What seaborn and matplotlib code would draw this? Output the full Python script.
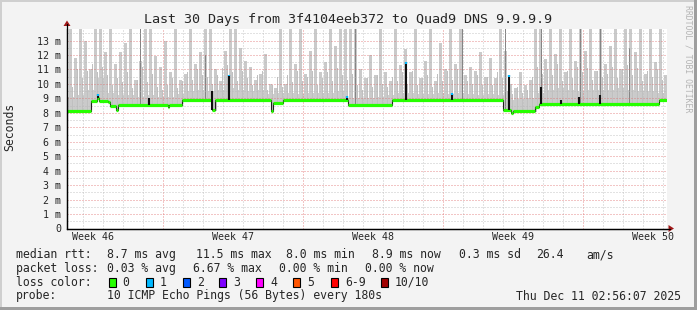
import numpy as np
import matplotlib
matplotlib.use("Agg")
import matplotlib.pyplot as plt
import matplotlib.transforms as mtransforms
import seaborn as sns
import pandas as pd
from matplotlib.patches import Rectangle, Polygon
from matplotlib.lines import Line2D

# ---------------- data (days since start of 30-day window, values in ms) ----------------
med_day = [0.0, 1.2, 1.5, 1.62, 2.05, 2.15, 2.45, 2.55, 5.05, 5.12, 5.75, 7.25, 7.4,
           10.2, 10.3, 10.8, 14.05, 16.25, 21.8, 22.2, 22.3, 23.4, 23.6, 29.6]
med_ms = [8.14, 8.85, 9.05, 8.85, 8.75, 8.5, 8.22, 8.52, 8.42, 8.52, 8.88, 8.22, 8.88,
          8.15, 8.68, 8.88, 8.55, 8.9, 8.2, 7.97, 8.14, 8.42, 8.6, 8.86]

# dense smoke band upper edge, per half day
band_top = [9.1, 9.2, 9.6, 10.4, 9.4, 9.2, 9.2, 9.1, 9.2, 9.1,
            9.1, 9.3, 9.5, 9.6, 9.5, 9.6, 9.7, 9.6, 9.5, 9.6,
            9.3, 9.4, 9.4, 9.3, 9.35, 9.4, 9.4, 9.5, 9.0, 9.05,
            9.0, 9.1, 9.2, 9.4, 9.35, 9.3, 9.3, 9.35, 9.3, 9.4,
            9.3, 9.25, 9.3, 9.2, 8.9, 8.95, 9.0, 9.4, 9.6, 9.7,
            9.6, 9.5, 9.6, 9.55, 9.6, 9.7, 9.6, 9.5, 9.5, 9.4]

# tall smoke spikes, per quarter day
smoke_top = [13.9, 11.8, 13.9, 13.0,  11.0, 13.9, 13.9, 12.2,  13.9, 11.4, 12.2, 12.8,
             13.9, 10.3, 11.6, 13.9,  13.9, 11.9, 11.2, 13.0,  10.8, 13.9, 10.3, 10.7,
             13.9, 11.4, 12.2, 13.9,  13.9, 11.0, 10.2, 12.3,  13.9, 13.9, 12.5, 11.6,
             11.2, 10.3, 10.7, 12.1,  10.0, 9.7, 13.9, 10.0,  13.9, 11.4, 13.9, 10.7,
             12.3, 13.9, 10.8, 11.5,  13.9, 12.6, 13.9, 13.9,  13.9, 13.9, 11.0, 10.4,
             12.0, 10.6, 13.9, 10.8,  10.2, 13.9, 11.3, 12.4,  10.8, 13.9, 10.4, 11.6,
             13.9, 10.2, 12.8, 11.0,  13.9, 11.4, 13.9, 10.6,  11.2, 10.9, 12.2, 10.5,
             11.8, 10.4, 13.9, 12.3,  10.0, 9.7, 10.8, 9.9,   10.3, 13.9, 13.9, 11.7,
             13.9, 12.1, 13.9, 10.8,  13.9, 11.6, 13.9, 12.3,  13.9, 10.9, 13.9, 11.4,
             12.6, 13.9, 11.0, 13.9,  13.9, 12.2, 13.9, 10.7,  13.9, 11.5, 13.9, 10.6]

# medium smoke spikes, per quarter day (interleaved)
smoke_mid = [10.2, 9.8, 11.0, 10.4,  10.9, 11.4, 10.8, 11.2,  10.6, 9.9, 10.4, 10.1,
             10.8, 9.7, 10.3, 11.2,  10.1, 10.7, 9.8, 9.6,   9.9, 10.4, 9.7, 10.2,
             10.8, 10.3, 11.0, 10.6,  10.5, 10.0, 10.6, 11.1,  11.3, 10.8, 10.2, 10.9,
             10.4, 9.9, 10.6, 10.9,   9.6, 9.9, 10.5, 9.8,    10.6, 10.1, 10.9, 10.2,
             10.5, 10.9, 9.9, 10.4,   10.8, 10.2, 11.1, 10.6,  10.3, 10.7, 9.9, 9.6,
             10.4, 9.8, 10.6, 10.0,   9.8, 10.5, 10.2, 10.8,   10.0, 10.9, 9.9, 10.4,
             10.6, 9.8, 10.7, 10.2,   10.9, 10.3, 11.0, 9.9,   10.2, 10.0, 10.6, 9.9,
             10.5, 9.9, 10.8, 10.4,   9.5, 9.3, 9.8, 9.4,     9.6, 10.5, 11.2, 10.7,
             11.0, 10.6, 11.4, 10.2,  10.9, 10.4, 11.2, 10.8,  11.1, 10.3, 10.9, 10.5,
             10.7, 11.2, 10.4, 11.0,  11.3, 10.6, 11.1, 10.2,  10.9, 10.5, 11.0, 10.3]

dark_day = [3.65, 6.9, 14.4, 19.75, 21.9, 23.7, 25.65, 26.65, 28.1]
dark_top = [13.9, 12.0, 13.9, 13.9, 13.9, 13.9, 13.9, 13.9, 12.5]

spike_day = [1.55, 4.1, 7.25, 8.1, 14.0, 16.95, 19.25, 22.1, 23.7, 24.7, 25.6, 26.65, 29.6]
spike_top = [9.27, 9.0, 9.5, 10.65, 9.17, 11.5, 9.37, 10.6, 9.77, 8.9, 9.1, 9.2, 8.9]
spike_loss1 = [True, False, False, True, True, True, True, True, False, False, False, False, False]

week_labels = ["Week 46", "Week 47", "Week 48", "Week 49", "Week 50"]
week_centers = [1.3, 8.3, 15.3, 22.3, 29.3]
week_lines = [4.8, 11.8, 18.8, 25.8]
day_lines = [0.8 + k for k in range(30)]

ytick_vals = list(range(0, 14))
ytick_labels = ["0"] + [f"{v} m" for v in range(1, 14)]

loss_labels = ["0", "1", "2", "3", "4", "5", "6-9", "10/10"]
loss_colors = ["#26ff00", "#00b8ff", "#0059ff", "#7e00ff", "#ff00ff", "#ff5500", "#ff0000", "#a10000"]
loss_box_x = [108.7, 145.7, 182.7, 219.3, 256.0, 293.3, 331.0, 381.0]

row1 = [("median rtt:", 16), ("8.7 ms avg", 107), ("11.5 ms max", 196), ("8.0 ms min", 286),
        ("8.9 ms now", 372.5), ("0.3 ms sd", 459), ("26.4", 536), ("am/s", 586)]
row2 = [("packet loss:", 16), ("0.03 % avg", 107), ("6.67 % max", 193), ("0.00 % min", 279),
        ("0.00 % now", 365)]

# ---------------- figure ----------------
sns.set_style("white")
MONO = ["DejaVu Sans Mono"]
plt.rcParams["font.family"] = MONO
plt.rcParams["lines.scale_dashes"] = False

W, H = 697, 310
fig = plt.figure(figsize=(W / 100, H / 100), dpi=100)
fig.patch.set_facecolor("#f3f3f3")


def fx(x):
    return x / W


def fy(y):
    return 1 - y / H


# 3D border
fig.add_artist(Rectangle((0, fy(2)), 1, 2 / H, transform=fig.transFigure, color="#cfcfcf", lw=0))
fig.add_artist(Rectangle((0, 0), 2 / W, 1, transform=fig.transFigure, color="#cfcfcf", lw=0))
fig.add_artist(Rectangle((0, 0), 1, 3 / H, transform=fig.transFigure, color="#9e9e9e", lw=0))
fig.add_artist(Rectangle((fx(694), 0), 3 / W, 1, transform=fig.transFigure, color="#9e9e9e", lw=0))

ax = fig.add_axes([fx(67), fy(228.5), 600 / W, 200 / H])
ax.set_facecolor("white")
ymax = 200 / 14.46
ax.set_xlim(0, 30)
ax.set_ylim(0, ymax)

md = np.array(med_day + [30.0])
mv = np.array(med_ms + [med_ms[-1]])


def step_at(x):
    idx = np.searchsorted(md, x, side="right") - 1
    return mv[np.clip(idx, 0, len(mv) - 1)]


# dense smoke band
band_days = np.arange(len(band_top) + 1) * 0.5
bt = np.array(band_top + [band_top[-1]])
xs = np.union1d(md, band_days)
base = step_at(xs)
bidx = np.clip(np.searchsorted(band_days, xs, side="right") - 1, 0, len(bt) - 1)
top = np.maximum(bt[bidx], base)
ax.fill_between(xs, base, top, step="post", color="#cccccc", lw=0, zorder=1)

# smoke spikes
sx = np.arange(len(smoke_top)) * 0.25 + 0.125
ax.vlines(sx, step_at(sx), smoke_top, color="#cacaca", lw=1.0, zorder=1.2, antialiased=False)
mx = np.arange(len(smoke_mid)) * 0.25 + 0.01
ax.vlines(mx, step_at(mx), smoke_mid, color="#c0c0c0", lw=0.72, zorder=1.1, antialiased=False)
ax.vlines(dark_day, step_at(np.array(dark_day)), dark_top, color="#858585", lw=0.72, zorder=1.3,
          antialiased=False)

# grid
ax.set_yticks(ytick_vals)
ax.set_yticklabels(ytick_labels)
ax.set_yticks(np.arange(0.5, 14, 1.0), minor=True)
ax.set_xticks(week_lines)
ax.set_xticks([d for d in day_lines if all(abs(d - w) > 0.01 for w in week_lines)], minor=True)
ax.set_xticklabels([])
ax.set_axisbelow(False)
ax.grid(which="major", color="#e07070", alpha=0.8, lw=0.72, ls=(0, (0.72, 1.44)))
ax.grid(which="minor", color="#b8b8b8", alpha=0.8, lw=0.72, ls=(0, (0.72, 1.44)))
ax.tick_params(which="both", direction="out", length=1.6, width=0.7, color="#000000",
               labelsize=7.2, pad=2.6)
for lab in ax.get_yticklabels():
    lab.set_fontfamily(MONO)

# median line: thin dark line + green loss-0 segments
df = pd.DataFrame({"day": md, "ms": mv})
sns.lineplot(data=df, x="day", y="ms", ax=ax, color="#202020", lw=0.8,
             drawstyle="steps-post", zorder=4, legend=False)
ax.hlines(med_ms, med_day, list(med_day[1:]) + [30.0], color="#26ff00", lw=2.3, zorder=5)
ax.set_xlabel("")
ax.set_ylabel("")

# loss spikes (black) with blue tips
sd = np.array(spike_day)
ax.vlines(sd, step_at(sd), spike_top, color="#101010", lw=1.5, zorder=6)
for d, t, l1 in zip(spike_day, spike_top, spike_loss1):
    if l1:
        ax.vlines(d, t - 0.12, t, color="#00b8ff", lw=1.6, zorder=7)

for s in ["top", "right"]:
    ax.spines[s].set_visible(False)
for s in ["left", "bottom"]:
    ax.spines[s].set_color("black")
    ax.spines[s].set_linewidth(0.9)
    ax.spines[s].set_zorder(8)

# week labels
bt_trans = mtransforms.blended_transform_factory(ax.transData, fig.transFigure)
for lab, c in zip(week_labels, week_centers):
    ax.text(c, fy(237.5), lab, transform=bt_trans,
            ha="center", va="center", fontsize=7.2, family=MONO)

# axis extensions and arrows
arrow_c = "#a01818"
fig.add_artist(Line2D([fx(67), fx(67)], [fy(228.5), fy(24)], transform=fig.transFigure,
                      color="black", lw=0.9))
fig.add_artist(Line2D([fx(67), fx(670)], [fy(228.5), fy(228.5)], transform=fig.transFigure,
                      color="black", lw=0.9))
fig.add_artist(Polygon([(fx(63.5), fy(26)), (fx(70.5), fy(26)), (fx(67), fy(20.5))],
                       closed=True, transform=fig.transFigure, color=arrow_c, lw=0))
fig.add_artist(Polygon([(fx(668.5), fy(225)), (fx(668.5), fy(232)), (fx(674), fy(228.5))],
                       closed=True, transform=fig.transFigure, color=arrow_c, lw=0))

# title, labels
fig.text(fx(348), fy(19), "Last 30 Days from 3f4104eeb372 to Quad9 DNS 9.9.9.9",
         ha="center", va="center", fontsize=9.6, family=MONO)
fig.text(fx(10), fy(127), "Seconds", rotation=90, ha="center", va="center",
         fontsize=8.3, family=MONO)
fig.text(fx(688), fy(59), "RRDTOOL / TOBI OETIKER", rotation=270, ha="center", va="center",
         fontsize=5.9, family=MONO, color="#b4b4b4")

# legend rows
LF = 8.3
for txt, x in row1:
    fig.text(fx(x), fy(254.5), txt, ha="left", va="center", fontsize=LF, family=MONO)
for txt, x in row2:
    fig.text(fx(x), fy(268.5), txt, ha="left", va="center", fontsize=LF, family=MONO)
fig.text(fx(16), fy(282), "loss color:", ha="left", va="center", fontsize=LF, family=MONO)
for lab, col, bx in zip(loss_labels, loss_colors, loss_box_x):
    fig.add_artist(Rectangle((fx(bx), fy(286.5)), 7 / W, 9 / H, transform=fig.transFigure,
                             facecolor=col, edgecolor="black", lw=0.8))
    fig.text(fx(bx + 14), fy(282), lab, ha="left", va="center", fontsize=LF, family=MONO)
fig.text(fx(16), fy(296), "probe:", ha="left", va="center", fontsize=LF, family=MONO)
fig.text(fx(107), fy(296), "10 ICMP Echo Pings (56 Bytes) every 180s", ha="left",
         va="center", fontsize=LF, family=MONO)
fig.text(fx(681), fy(296), "Thu Dec 11 02:56:07 2025", ha="right", va="center",
         fontsize=LF, family=MONO)

fig.savefig("out.png", dpi=100, facecolor=fig.get_facecolor())
